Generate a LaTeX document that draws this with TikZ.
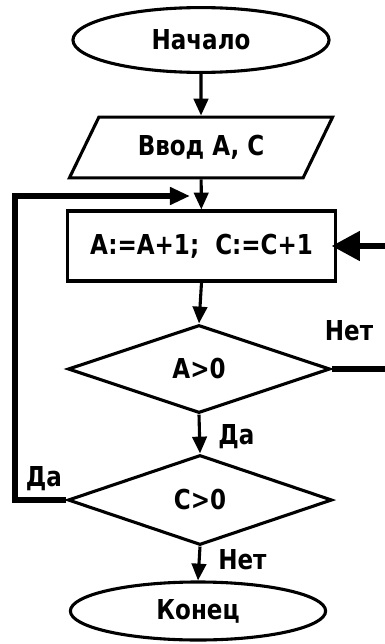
\documentclass[tikz,border=0pt]{standalone}
\usepackage{fontspec}
\setmainfont{DejaVu Sans}[FakeStretch=0.84]
\usetikzlibrary{shapes.geometric, arrows.meta}
\tikzset{>={Triangle[length=0.42cm, width=0.36cm]}}
\tikzset{
  block/.style={draw, line width=2.2pt, inner sep=0pt, font=\bfseries\fontsize{19.5}{22}\selectfont},
  lbl/.style={inner sep=0pt, font=\bfseries\fontsize{19.5}{22}\selectfont},
  loop/.style={line width=3.6pt},
  flow/.style={line width=2.2pt, ->}
}

\begin{document}
\begin{tikzpicture}[x=0.025cm, y=-0.025cm]
\useasboundingbox (0,0) rectangle (385,644);
\clip (0,0) rectangle (385,644);
\node[block, ellipse, minimum width=6.4cm, minimum height=1.62cm] (start) at (201,40) {Начало};
\node[block, trapezium, trapezium left angle=53, trapezium right angle=127, trapezium stretches=true,
  minimum width=6.58cm, minimum height=1.52cm] (input) at (201,147.5) {Ввод A, C};
\node[block, rectangle, minimum width=6.68cm, minimum height=1.75cm] (step) at (201.5,246) {A:=A+1;\ \ C:=C+1};
\node[block, diamond, minimum width=6.55cm, minimum height=2.2cm] (ifa) at (199,369) {A>0};
\node[block, diamond, minimum width=6.6cm, minimum height=2.25cm] (ifc) at (200,500) {C>0};
\node[block, ellipse, minimum width=6.38cm, minimum height=1.45cm] (finish) at (198,611) {Конец};

\node[lbl] (noa) at (349,331) {Нет};
\node[lbl, anchor=west] (yesa) at (218,437) {Да};
\node[lbl] (yesc) at (44,479) {Да};
\node[lbl, anchor=west] (noc) at (218,560) {Нет};

\coordinate (join) at (190,196);
\coordinate (left) at (15,196);
\coordinate (right) at (400,300);

\draw[flow] (start) -- (input);
\draw[flow] (input) -- (step);
\draw[flow] (ifa.south) -- (ifc.north);
\draw[flow] (ifc.south) -- (finish.north);
\draw[flow] (step.south) -- (ifa.north);
\draw[loop, -{Triangle[length=0.5cm, width=0.42cm]}] (ifc.west) -- (left |- ifc.west) -- (left) -- (join);
\draw[loop, shorten >=-3.5pt, -{Triangle[length=0.7cm, width=0.72cm]}] (ifa.east) -- (right |- ifa.east) -- (right |- step.east) -- (step.east);
\end{tikzpicture}
\end{document}
